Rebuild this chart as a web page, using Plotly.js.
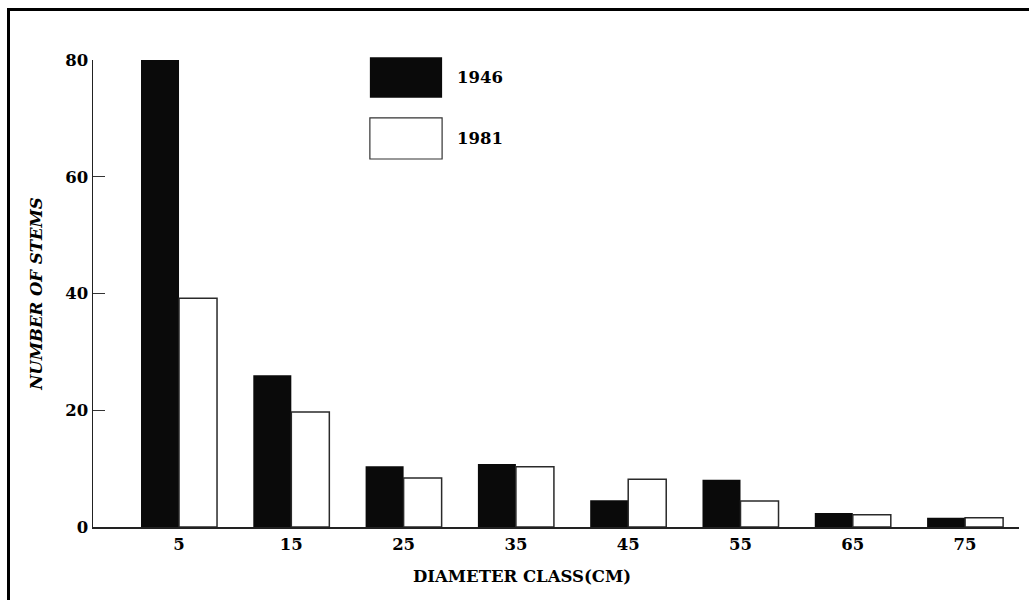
<!DOCTYPE html>
<html>
<head>
<meta charset="utf-8">
<script src="https://cdn.plot.ly/plotly-3.0.1.min.js"></script>
<style>
  html, body { margin: 0; padding: 0; background: #fff; }
  #wrap { position: relative; width: 1029px; height: 600px; overflow: hidden; }
  #chart { position: absolute; left: 0; top: 0; width: 1029px; height: 600px; }
  #frame { position: absolute; left: 7px; top: 8px; width: 1030px; height: 600px;
           border-left: 3px solid #000; border-top: 3px solid #000; pointer-events: none; }
</style>
</head>
<body>
<div id="wrap">
  <div id="chart"></div>
  <div id="frame"></div>
</div>
<script>
// Data
const diameterClasses = [5, 15, 25, 35, 45, 55, 65, 75];
const stems1946 = [80, 26, 10.4, 10.8, 4.6, 8.1, 2.4, 1.6];
const stems1981 = [39.2, 19.7, 8.4, 10.3, 8.2, 4.45, 2.1, 1.6];
const yTicks = [0, 20, 40, 60, 80];
const seriesNames = ['1946', '1981'];
const xTitle = 'DIAMETER CLASS(CM)';
const yTitle = 'NUMBER OF STEMS';

const FONT = 'DejaVu Serif, Liberation Serif, serif';
const FS = 16.5;

const traces = [
  {
    type: 'bar', name: seriesNames[0], x: diameterClasses, y: stems1946,
    marker: { color: '#0a0a0a', line: { width: 0 } },
    showlegend: false, hoverinfo: 'x+y'
  },
  {
    type: 'bar', name: seriesNames[1], x: diameterClasses, y: stems1981,
    marker: { color: '#ffffff', line: { color: '#2a2a2a', width: 1.5 } },
    showlegend: false, hoverinfo: 'x+y'
  }
];

const layout = {
  width: 1029, height: 600,
  margin: { l: 93, r: 10, t: 60, b: 73 },
  paper_bgcolor: 'rgba(0,0,0,0)', plot_bgcolor: 'rgba(0,0,0,0)',
  barmode: 'group', bargap: 0.323, bargroupgap: 0,
  font: { family: FONT, size: FS, color: '#000' },
  xaxis: {
    type: 'linear', range: [-2.66, 79.8],
    tickvals: diameterClasses, ticktext: diameterClasses.map(String),
    ticks: '', showgrid: false, zeroline: false,
    showline: true, linecolor: '#222', linewidth: 1.5,
    ticklabelstandoff: 2,
    tickfont: { family: FONT, size: FS, color: '#000', weight: 'bold' }
  },
  yaxis: {
    range: [0, 80], tickvals: yTicks, ticktext: yTicks.map(String),
    ticks: 'inside', ticklen: 12, tickwidth: 1, tickcolor: '#333',
    showgrid: false, zeroline: false,
    showline: true, linecolor: '#222', linewidth: 1.5,
    tickfont: { family: FONT, size: FS, color: '#000', weight: 'bold' },
    title: { text: '<b><i>' + yTitle + '</i></b>', font: { family: FONT, size: FS, color: '#000' }, standoff: 18 }
  },
  shapes: [
    { type: 'rect', xref: 'paper', yref: 'paper', x0: 0.299, x1: 0.377, y0: 0.919, y1: 1.006,
      fillcolor: '#0a0a0a', line: { width: 0 } },
    { type: 'rect', xref: 'paper', yref: 'paper', x0: 0.299, x1: 0.377, y0: 0.788, y1: 0.876,
      fillcolor: '#ffffff', line: { color: '#333', width: 1.2 } }
  ],
  annotations: [
    { xref: 'paper', yref: 'paper', x: 0.391, y: 0.962, xanchor: 'left', yanchor: 'middle',
      text: '<b>' + seriesNames[0] + '</b>', showarrow: false, font: { family: FONT, size: FS, color: '#000' } },
    { xref: 'paper', yref: 'paper', x: 0.391, y: 0.831, xanchor: 'left', yanchor: 'middle',
      text: '<b>' + seriesNames[1] + '</b>', showarrow: false, font: { family: FONT, size: FS, color: '#000' } },
    { xref: 'paper', yref: 'paper', x: 0.463, y: -0.105, xanchor: 'center', yanchor: 'middle',
      text: '<b>' + xTitle + '</b>', showarrow: false, font: { family: FONT, size: FS, color: '#000' } }
  ]
};

Plotly.newPlot('chart', traces, layout, { staticPlot: true, displayModeBar: false });
</script>
</body>
</html>
